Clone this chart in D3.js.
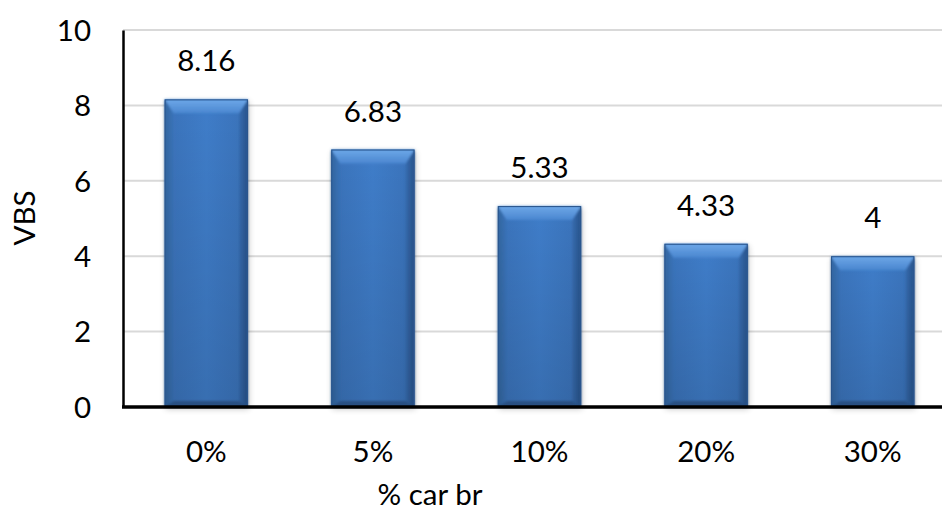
<!DOCTYPE html>
<html>
<head>
<meta charset="utf-8">
<script src="https://cdn.jsdelivr.net/npm/d3@7"></script>
<style>
  html, body { margin: 0; padding: 0; background: #fff; }
  svg { display: block; font-family: Lato, "Open Sans", sans-serif; }
</style>
</head>
<body>
<svg id="chart" width="942" height="513"></svg>
<script>
// Chart data
const categories = ["0%", "5%", "10%", "20%", "30%"];
const values = [8.16, 6.83, 5.33, 4.33, 4];
const valueLabels = ["8.16", "6.83", "5.33", "4.33", "4"];
const yTicks = [0, 2, 4, 6, 8, 10];
const xTitle = "% car br";
const yTitle = "VBS";

const svg = d3.select("#chart");
const W = 942, H = 513;
const plotLeft = 123, plotRight = 956, plotTop = 30, plotBottom = 407;
const fontSize = 29.5;

const x = d3.scaleBand().domain(categories).range([plotLeft, plotRight]).paddingInner(0.5).paddingOuter(0.25);
const y = d3.scaleLinear().domain([0, 10]).range([plotBottom, plotTop]);

const defs = svg.append("defs");
const body = defs.append("linearGradient").attr("id", "barBody").attr("x1", 0).attr("x2", 1).attr("y1", 0).attr("y2", 0);
body.append("stop").attr("offset", "0%").attr("stop-color", "#3a72b9");
body.append("stop").attr("offset", "50%").attr("stop-color", "#3f7dc9");
body.append("stop").attr("offset", "100%").attr("stop-color", "#3a72b9");
const vshade = defs.append("linearGradient").attr("id", "barV").attr("x1", 0).attr("x2", 0).attr("y1", 0).attr("y2", 1);
vshade.append("stop").attr("offset", "0%").attr("stop-color", "#000").attr("stop-opacity", 0);
vshade.append("stop").attr("offset", "100%").attr("stop-color", "#000").attr("stop-opacity", 0.12);
const topG = defs.append("linearGradient").attr("id", "barTop").attr("x1", 0).attr("x2", 0).attr("y1", 0).attr("y2", 1);
topG.append("stop").attr("offset", "0%").attr("stop-color", "#6ea8e8");
topG.append("stop").attr("offset", "100%").attr("stop-color", "#4a87d1");
const leftG = defs.append("linearGradient").attr("id", "barLeft").attr("x1", 0).attr("x2", 1).attr("y1", 0).attr("y2", 0);
leftG.append("stop").attr("offset", "0%").attr("stop-color", "#33669f");
leftG.append("stop").attr("offset", "100%").attr("stop-color", "#3a74bb");
const rightG = defs.append("linearGradient").attr("id", "barRight").attr("x1", 1).attr("x2", 0).attr("y1", 0).attr("y2", 0);
rightG.append("stop").attr("offset", "0%").attr("stop-color", "#28528a");
rightG.append("stop").attr("offset", "100%").attr("stop-color", "#366db1");
const shadow = defs.append("filter").attr("id", "shadow").attr("x", "-20%").attr("y", "-10%").attr("width", "140%").attr("height", "120%");
shadow.append("feGaussianBlur").attr("stdDeviation", 3);
const soft = defs.append("filter").attr("id", "soft");
soft.append("feGaussianBlur").attr("stdDeviation", 0.8);

// Grid lines
svg.append("g").selectAll("line").data(yTicks.filter(d => d > 0)).join("line")
  .attr("x1", plotLeft).attr("x2", W)
  .attr("y1", d => y(d)).attr("y2", d => y(d))
  .attr("stroke", "#d9d9d9").attr("stroke-width", 2);

// Bars with bevel
const bars = svg.append("g").selectAll("g").data(categories.map((c, i) => ({c, v: values[i], label: valueLabels[i]}))).join("g");

bars.append("rect")
  .attr("x", d => x(d.c) + 1).attr("y", d => y(d.v) + 2)
  .attr("width", x.bandwidth()).attr("height", d => plotBottom - y(d.v))
  .attr("fill", "#000").attr("opacity", 0.22).attr("filter", "url(#shadow)");

bars.append("rect")
  .attr("x", d => x(d.c)).attr("y", d => y(d.v))
  .attr("width", x.bandwidth()).attr("height", d => plotBottom - y(d.v))
  .attr("fill", "url(#barBody)");

const bev = 14, side = 9;
function facet(d, which) {
  const x0 = x(d.c), x1 = x0 + x.bandwidth(), y0 = y(d.v), y1 = plotBottom;
  if (which === "top") return [[x0, y0], [x1, y0], [x1 - side, y0 + bev], [x0 + side, y0 + bev]];
  if (which === "left") return [[x0, y0], [x0 + side, y0 + bev], [x0 + side, y1 - 6], [x0, y1]];
  if (which === "right") return [[x1, y0], [x1 - side, y0 + bev], [x1 - side, y1 - 6], [x1, y1]];
  return [[x0, y1], [x0 + side, y1 - 6], [x1 - side, y1 - 6], [x1, y1]];
}
const facets = [["left", "url(#barLeft)"], ["right", "url(#barRight)"], ["bottom", "#2d5a93"], ["top", "url(#barTop)"]];
const bevelGroup = bars.append("g").attr("filter", "url(#soft)");
facets.forEach(([k, col]) => {
  bevelGroup.append("path").attr("d", d => d3.line()(facet(d, k)) + "Z").attr("fill", col);
});
bars.append("rect")
  .attr("x", d => x(d.c)).attr("y", d => y(d.v))
  .attr("width", x.bandwidth()).attr("height", d => plotBottom - y(d.v))
  .attr("fill", "url(#barV)");
bars.append("rect")
  .attr("x", d => x(d.c) + 0.5).attr("y", d => y(d.v) + 0.5)
  .attr("width", x.bandwidth() - 1).attr("height", d => plotBottom - y(d.v) - 0.5)
  .attr("fill", "none").attr("stroke", "#2a558c").attr("stroke-width", 1);

// Value labels
bars.append("text")
  .attr("x", d => x(d.c) + x.bandwidth() / 2).attr("y", d => y(d.v) - 28)
  .attr("text-anchor", "middle").attr("font-size", fontSize).attr("fill", "#000")
  .text(d => d.label);

// Axes
const yAxis = d3.axisLeft(y).tickValues(yTicks).tickSize(0).tickPadding(32).tickFormat(d3.format("d"));
const gy = svg.append("g").attr("transform", `translate(${plotLeft},0)`).call(yAxis);
gy.select(".domain").attr("stroke", "#000").attr("stroke-width", 2.5);
gy.selectAll("text").attr("font-size", fontSize).attr("font-family", "Lato, sans-serif").attr("fill", "#000").attr("dy", "0.35em");

const xAxis = d3.axisBottom(x).tickSize(0).tickPadding(34);
const gx = svg.append("g").attr("transform", `translate(0,${plotBottom})`).call(xAxis);
gx.select(".domain").attr("stroke", "#000").attr("stroke-width", 3.5).attr("d", `M${plotLeft - 1},0H${W}`);
gx.selectAll("text").attr("font-size", fontSize).attr("font-family", "Lato, sans-serif").attr("fill", "#000");

// Axis titles
svg.append("text").attr("x", 430).attr("y", 505).attr("text-anchor", "middle")
  .attr("font-size", fontSize).text(xTitle);
svg.append("text").attr("transform", "translate(35,218) rotate(-90)").attr("text-anchor", "middle")
  .attr("font-size", fontSize).text(yTitle);
</script>
</body>
</html>
